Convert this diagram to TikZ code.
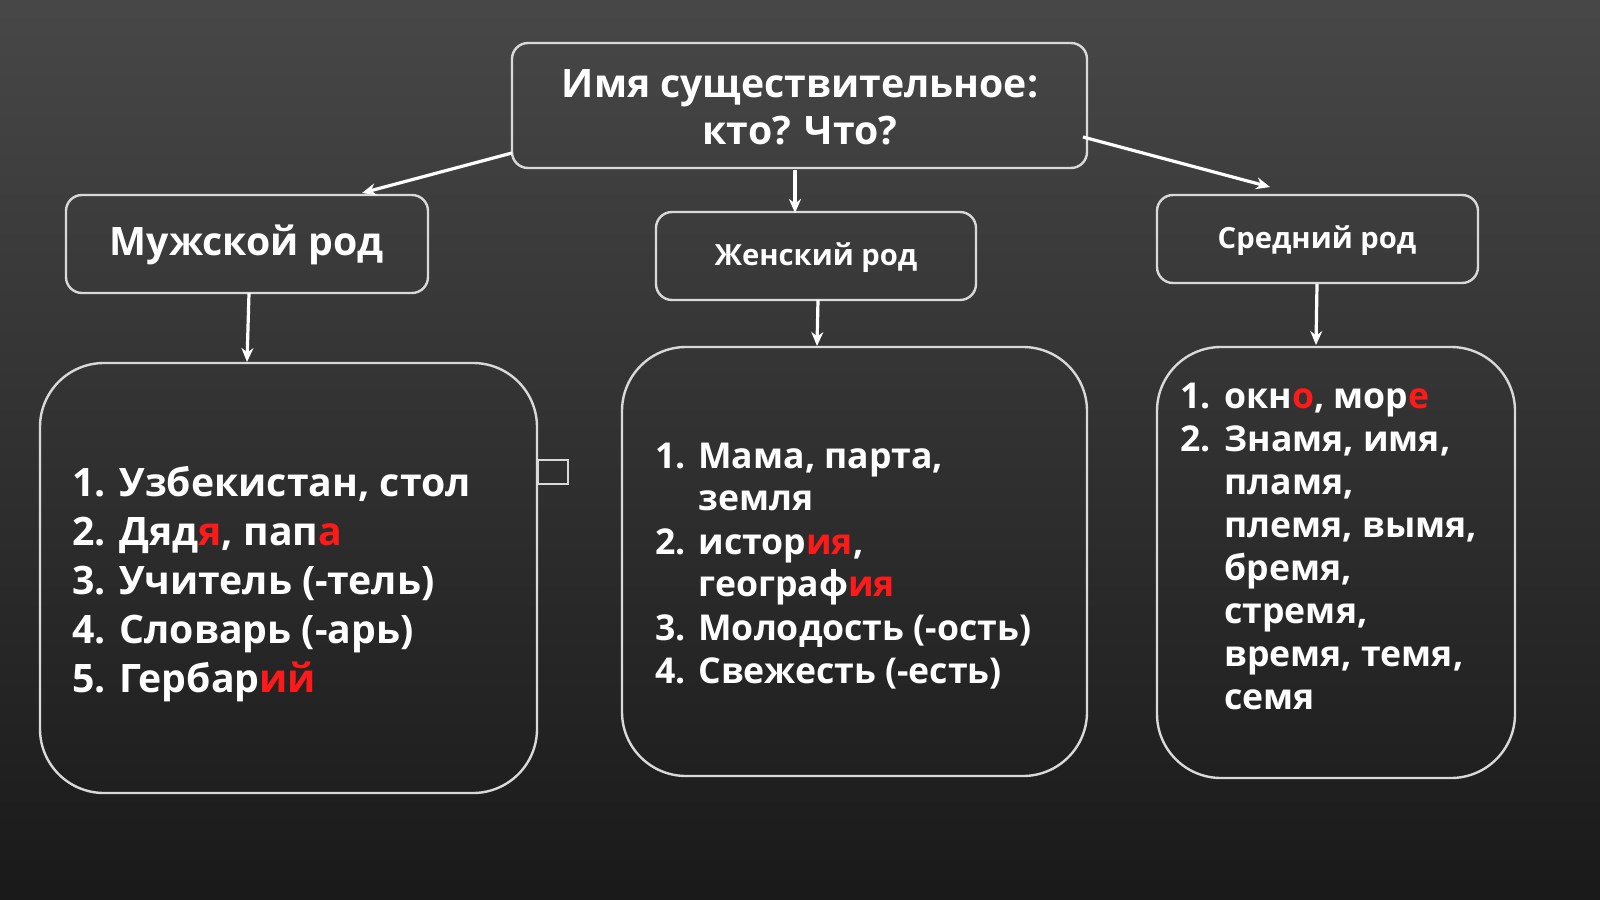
\documentclass[tikz,border=0pt]{standalone}
\usepackage{fontspec}
\setmainfont{Open Sans}[BoldFont={* Bold}]
\usetikzlibrary{arrows.meta}
\definecolor{rd}{HTML}{FF1A1A}
\newcommand{\R}[1]{\textcolor{rd}{#1}}
\begin{document}
\begin{tikzpicture}[x=0.5pt,y=-0.5pt,
 box/.style={draw=white!85!black,line width=1.2pt,rounded corners=8pt,inner sep=0},
 big/.style={draw=white!85!black,line width=1.2pt,rounded corners=32pt},
 arr/.style={white,line width=1.6pt,-{Stealth[length=7pt,width=6pt]}},
 L/.style={anchor=base west,text=white,font=\bfseries\fontsize{19.6}{23}\selectfont,inner sep=0},
 M/.style={anchor=base west,text=white,font=\bfseries\fontsize{17.8}{21}\selectfont,inner sep=0}]
\shade[top color=black!72,bottom color=black!90] (0,0) rectangle (1600,899);
\useasboundingbox (0,0) rectangle (1600,899);
\draw[box] (512,43) rectangle (1087,168);
\node[text=white,align=center,font=\bfseries\fontsize{19.6}{23.5}\selectfont] (t) at (800,107) {Имя существительное:\\кто? Что?};
\draw[box] (66,195) rectangle (428,293);
\node[text=white,font=\bfseries\fontsize{19.6}{22}\selectfont] (m) at (247,245) {Мужской род};
\draw[box] (656,212) rectangle (976,300);
\node[text=white,font=\bfseries\fontsize{14.6}{16}\selectfont] (f) at (816,258) {Женский род};
\draw[box] (1157,195) rectangle (1478,283);
\node[text=white,font=\bfseries\fontsize{14.6}{16}\selectfont] (n) at (1317,241) {Средний род};
\draw[big] (40,363) rectangle (537,793);
\draw[big] (622,347) rectangle (1087,776);
\draw[big] (1157,347) rectangle (1515,778);
\draw[white!85!black,line width=1.2pt] (538,460) rectangle (568,484);
\coordinate (a1) at (512,153); \coordinate (b1) at (362,193);
\coordinate (a2) at (795,170); \coordinate (b2) at (795,213);
\coordinate (a3) at (1083,137); \coordinate (b3) at (1270,187);
\coordinate (a4) at (249,293); \coordinate (b4) at (247,362);
\coordinate (a5) at (818,300); \coordinate (b5) at (817,346);
\coordinate (a6) at (1317,284); \coordinate (b6) at (1316,345);
\foreach \i in {1,...,6} \draw[arr] (a\i) -- (b\i);
% left list
\node[L] (l1) at (72,496) {1. Узбекистан, стол};
\node[L] (l2) at (72,545) {2. Дяд\R{я}, пап\R{а}};
\node[L] (l3) at (72,594) {3. Учитель (-тель)};
\node[L] (l4) at (72,643) {4. Словарь (-арь)};
\node[L] (l5) at (72,692) {5. Гербар\R{ий}};
% middle
\node[M] (mn1) at (655,468) {1.}; \node[M] (m1) at (698,468) {Мама, парта,};
\node[M] (m1b) at (698,510) {земля};
\node[M] (mn2) at (655,554) {2.}; \node[M] (m2) at (698,554) {истор\R{ия},};
\node[M] (m2b) at (698,596) {географ\R{ия}};
\node[M] (mn3) at (655,640) {3.}; \node[M] (m3) at (698,640) {Молодость (-ость)};
\node[M] (mn4) at (655,683) {4.}; \node[M] (m4) at (698,683) {Свежесть (-есть)};
% right
\node[M] (rn1) at (1180,408) {1.}; \node[M] (r1) at (1224,408) {окн\R{о}, мор\R{е}};
\node[M] (rn2) at (1180,451) {2.}; \node[M] (r2) at (1224,451) {Знамя, имя,};
\node[M] (r3) at (1224,494) {пламя,};
\node[M] (r4) at (1224,537) {племя, вымя,};
\node[M] (r5) at (1224,580) {бремя,};
\node[M] (r6) at (1224,623) {стремя,};
\node[M] (r7) at (1224,666) {время, темя,};
\node[M] (r8) at (1224,709) {семя};
\end{tikzpicture}
\end{document}
